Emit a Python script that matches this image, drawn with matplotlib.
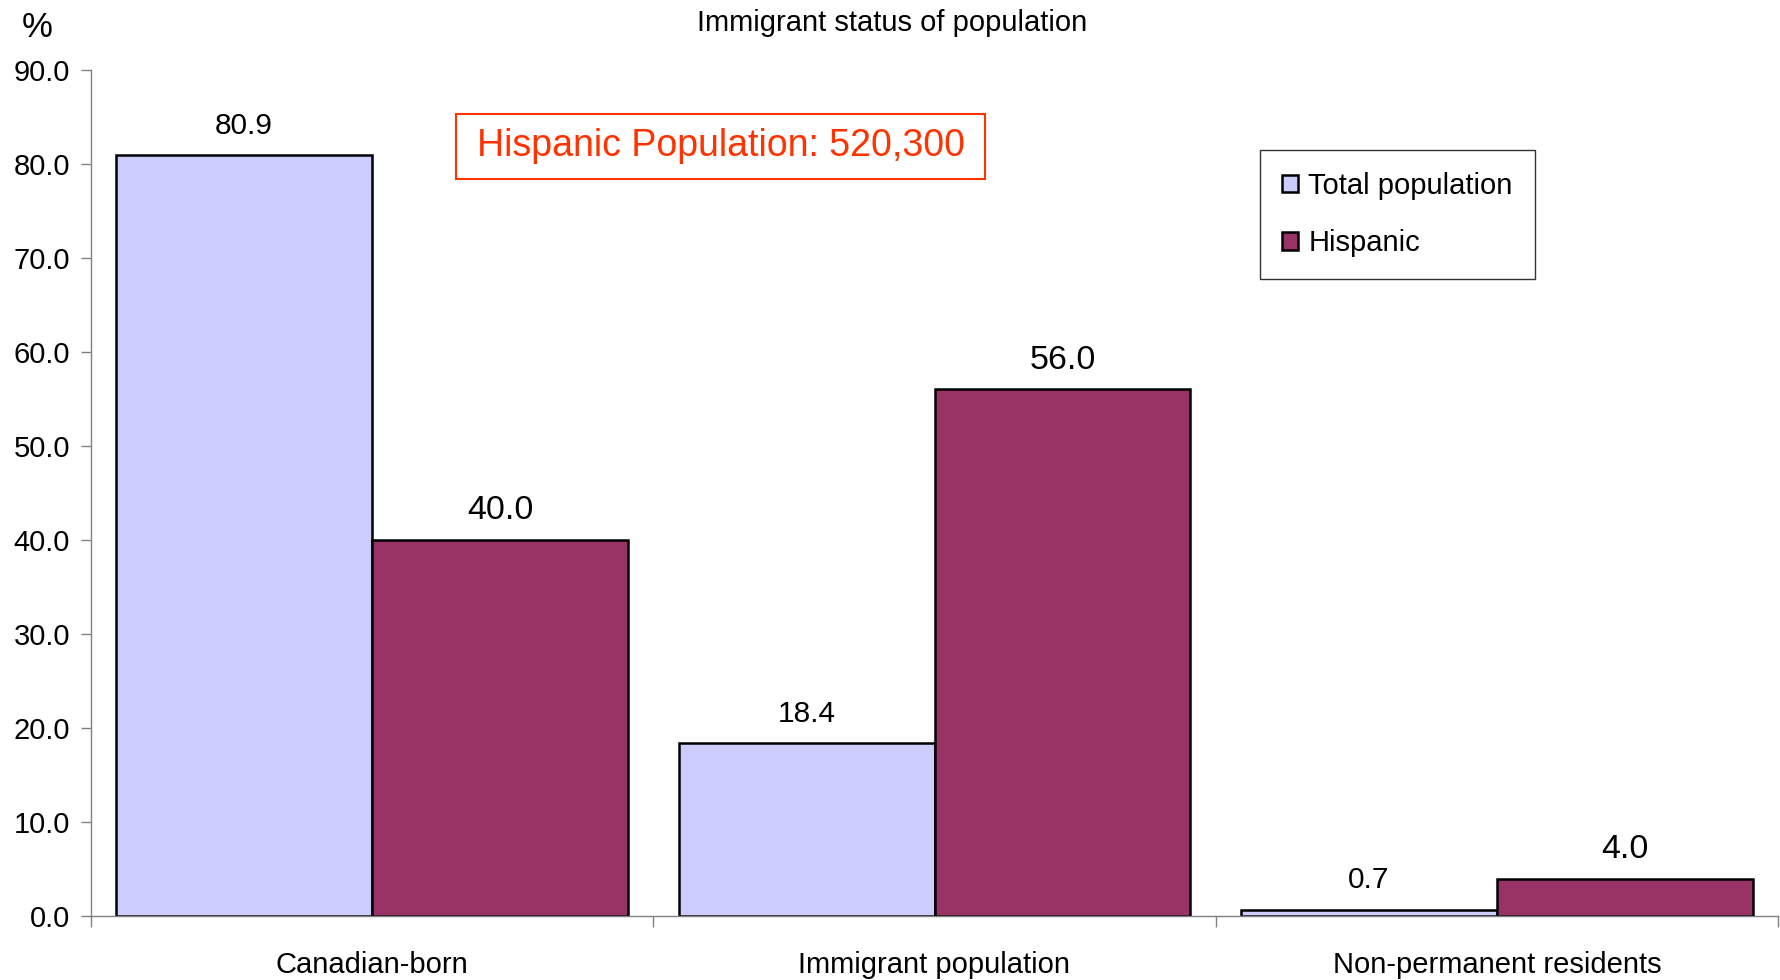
import matplotlib
matplotlib.use("Agg")
import matplotlib.pyplot as plt
import matplotlib.patches as mpatches
import numpy as np

plt.rcParams['font.family'] = ['Liberation Sans', 'DejaVu Sans']

# data
categories = ["Canadian-born", "Immigrant population", "Non-permanent residents"]
total_pop = [80.9, 18.4, 0.7]
hispanic = [40.0, 56.0, 4.0]
series_names = ["Total population", "Hispanic"]
note = "Hispanic Population: 520,300"
title = "Immigrant status of population"

fig = plt.figure(figsize=(17.8, 9.8), dpi=100)
ax = fig.add_axes([0.051, 0.065, 0.948, 0.864])

x = np.arange(len(categories)) + 0.5
w = 0.455
b1 = ax.bar(x - w / 2, total_pop, w, color="#CCCCFF", edgecolor="black", linewidth=1.8, label=series_names[0])
b2 = ax.bar(x + w / 2, hispanic, w, color="#993366", edgecolor="black", linewidth=1.8, label=series_names[1])

for rect, v in zip(b1, total_pop):
    ax.annotate("{0:.1f}".format(v), (rect.get_x() + rect.get_width() / 2, v),
                xytext=(0, 11), textcoords="offset points", ha="center", va="bottom", fontsize=21.5)
for rect, v in zip(b2, hispanic):
    ax.annotate("{0:.1f}".format(v), (rect.get_x() + rect.get_width() / 2, v),
                xytext=(0, 10), textcoords="offset points", ha="center", va="bottom", fontsize=24.5)

ax.set_xlim(0, 3)
ax.set_ylim(0, 90)
ax.set_yticks(np.arange(0, 91, 10))
ax.set_yticklabels(["{0:.1f}".format(t) for t in np.arange(0, 91, 10)])
ax.set_xticks([0, 1, 2, 3])
ax.set_xticklabels([])
ax.set_xticks(x, minor=True)
ax.set_xticklabels(categories, minor=True)
ax.tick_params(axis="x", which="major", direction="out", length=8, color="#808080", width=1)
ax.tick_params(axis="x", which="minor", length=0, pad=25, labelsize=21)
ax.tick_params(axis="y", direction="out", length=7, color="#808080", width=1, pad=8, labelsize=21)

for s in ["top", "right"]:
    ax.spines[s].set_visible(False)
for s in ["left", "bottom"]:
    ax.spines[s].set_color("#808080")
    ax.spines[s].set_linewidth(1)

leg = ax.legend(loc="upper left", bbox_to_anchor=(0.693, 0.905), fontsize=21, frameon=True,
                fancybox=False, edgecolor="black", handlelength=0.55, handleheight=0.55,
                handletextpad=0.35, labelspacing=1.0, borderpad=0.75, borderaxespad=0)
leg.get_frame().set_linewidth(1)
leg.get_frame().set_facecolor("white")

# annotation box
fig.patches.append(mpatches.Rectangle((456 / 1780, 1 - 179 / 980), 529 / 1780, 65 / 980,
                                      transform=fig.transFigure, fill=False, edgecolor="#FF3300", linewidth=1.5))
fig.text(0.405, 0.851, note, color="#FF3300", fontsize=27, ha="center", va="center")

fig.text(0.501, 0.977, title, fontsize=21, ha="center", va="center")
fig.text(0.021, 0.972, "%", fontsize=25, ha="center", va="center")

fig.savefig("out.png", dpi=100)
